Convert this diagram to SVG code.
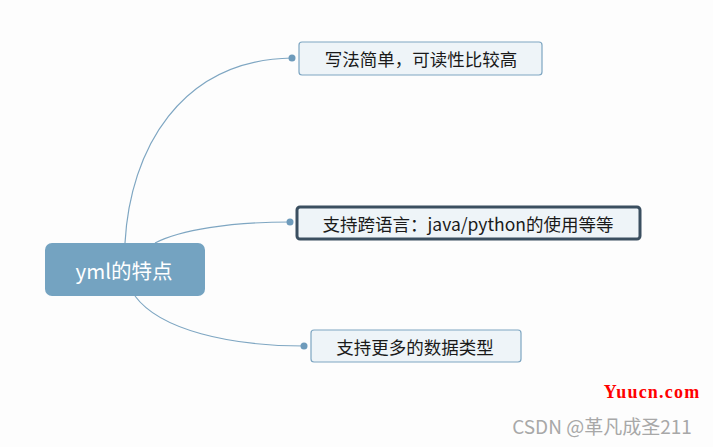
<svg xmlns="http://www.w3.org/2000/svg" width="713" height="447" viewBox="0 0 713 447">
<style>
.conn{fill:none;stroke:#7EA6C2;stroke-width:1.2}
.dot{fill:#6E9BBB}
.sub{fill:#EEF4F8;stroke:#7EA6C2;stroke-width:1.2}
.t{font-family:"Noto Sans CJK SC","Noto Sans",sans-serif;font-size:17.5px;fill:#1A1A1A;text-anchor:middle;dominant-baseline:central}
</style>
<rect width="713" height="447" fill="#FDFDFD"/>
<g id="connectors">
<path class="conn" d="M125,243 C130,150 180,60 292,58"/>
<path class="conn" d="M155,243 C180,230 230,222 290,222"/>
<path class="conn" d="M135,296 C160,330 230,346 304,346"/>
<circle class="dot" cx="292" cy="58" r="3.5"/>
<circle class="dot" cx="290" cy="222" r="3.5"/>
<circle class="dot" cx="304" cy="346" r="3.5"/>
</g>
<g id="root">
<rect x="45" y="243" width="160" height="53" rx="7" fill="#74A3C1"/>
<text x="124" y="270" font-family="'Noto Sans CJK SC','Noto Sans',sans-serif" font-size="20.5" fill="#FFFFFF" text-anchor="middle" dominant-baseline="central">yml的特点</text>
</g>
<g id="node1">
<rect class="sub" x="299" y="42" width="243" height="33" rx="3"/>
<text class="t" x="421" y="58.5">写法简单，可读性比较高</text>
</g>
<g id="node2">
<rect x="297" y="207" width="343" height="32" rx="3" fill="#EEF4F8" stroke="#3B4F60" stroke-width="3"/>
<text class="t" x="468" y="223">支持跨语言：java/python的使用等等</text>
</g>
<g id="node3">
<rect class="sub" x="311" y="330" width="210" height="32" rx="3"/>
<text class="t" x="415" y="346">支持更多的数据类型</text>
</g>
<text x="652" y="398" font-family="'Liberation Serif',serif" font-size="18" font-weight="bold" letter-spacing="1.2" fill="#FF0000" text-anchor="middle">Yuucn.com</text>
<text x="602" y="434" font-family="'Noto Sans CJK SC','Noto Sans',sans-serif" font-size="19" fill="#A8A8A8" text-anchor="middle">CSDN @革凡成圣211</text>
</svg>
